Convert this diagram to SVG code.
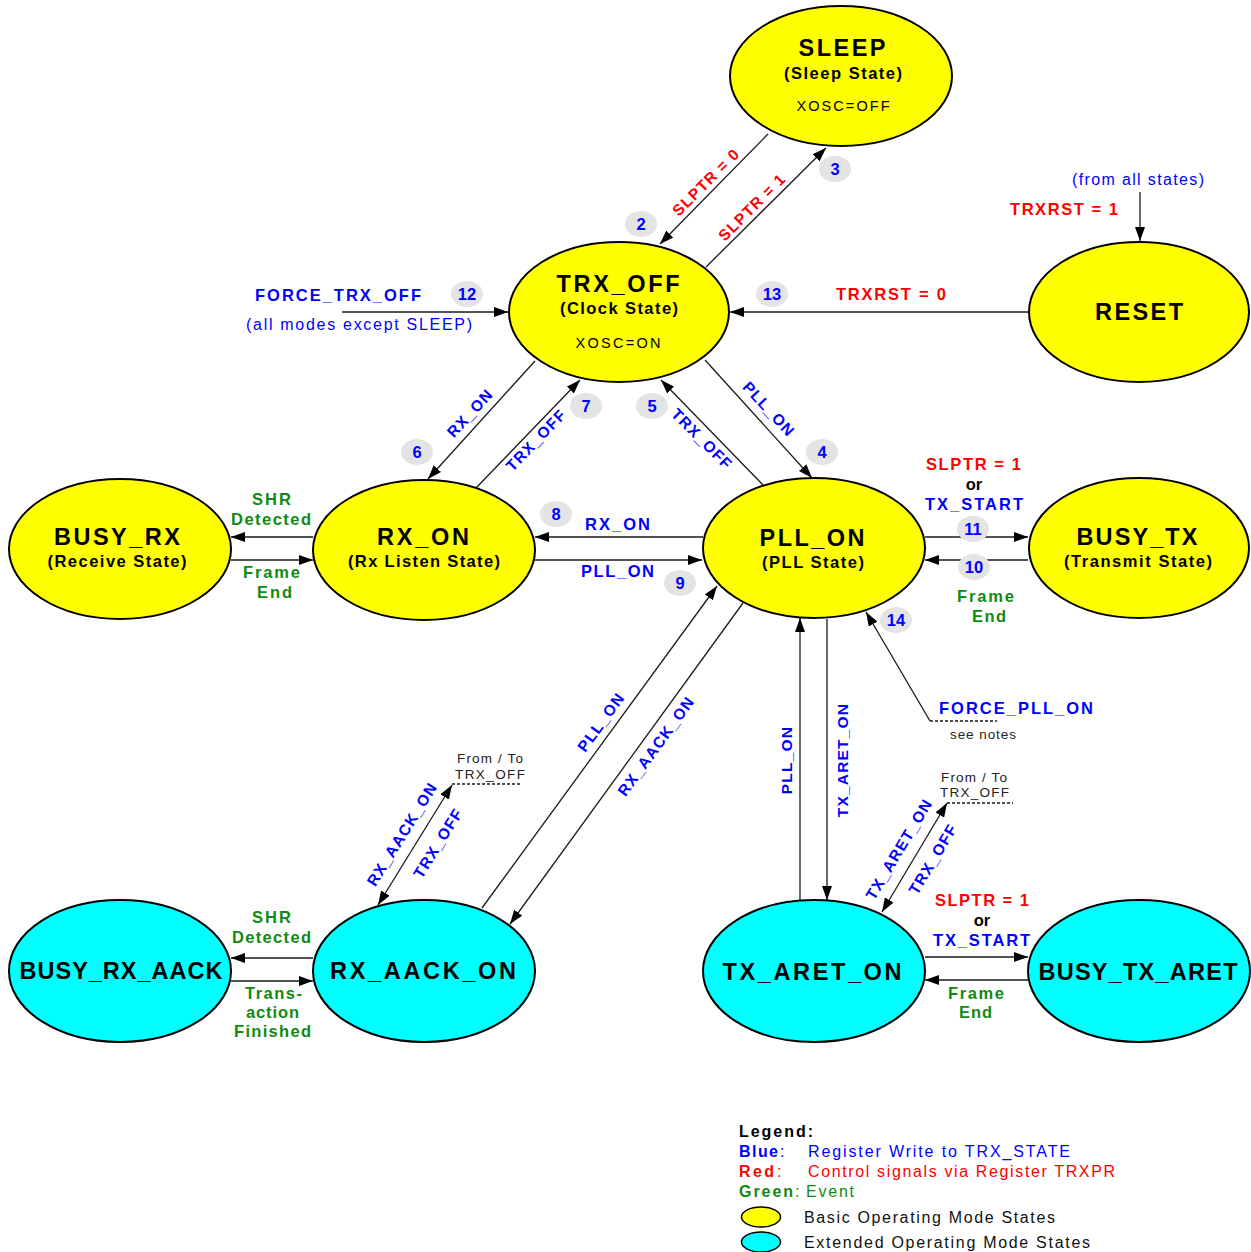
<svg xmlns="http://www.w3.org/2000/svg" width="1251" height="1252" viewBox="0 0 1251 1252">
<style>
text{font-family:"Liberation Sans",Arial,sans-serif}
.node ellipse{stroke:#000;stroke-width:2}
.basic{fill:#ffff00}
.ext{fill:#00ffff}
.t{font-size:23.5px;font-weight:bold;fill:#000;text-anchor:middle}
.s{font-size:16.5px;font-weight:bold;fill:#000;text-anchor:middle}
.x{font-size:14.5px;fill:#000;text-anchor:middle}
.lb{font-size:16.5px;font-weight:bold;fill:#0000ff}
.lr{font-size:16.5px;font-weight:bold;fill:#ff0000}
.lg{font-size:16.5px;font-weight:bold;fill:#108a10}
.lk{font-size:16.5px;font-weight:bold;fill:#000}
.nb{font-size:16px;fill:#0000ff}
.rot{font-size:15.5px;font-weight:bold;letter-spacing:1.2px;text-anchor:middle}
.note{font-size:13.5px;fill:#222}
.badge ellipse{fill:#e4e4e4}
.badge text{font-size:16.5px;font-weight:bold;fill:#0000ff;text-anchor:middle}
.conn line,.conn path{stroke:#1a1a1a;stroke-width:1.3;fill:none}
.conn .dash{stroke-dasharray:3,2}
.leg text{font-size:16px}
</style>
<defs>
<marker id="ah" markerUnits="userSpaceOnUse" viewBox="0 0 14 10" refX="14" refY="5" markerWidth="14" markerHeight="10" orient="auto-start-reverse">
<path d="M0,0 L14,5 L0,10 z" fill="#000"/>
</marker>
</defs>

<g id="connectors" class="conn">
<line x1="768" y1="134" x2="660" y2="244" marker-end="url(#ah)"/>
<line x1="706" y1="267" x2="826" y2="148" marker-end="url(#ah)"/>
<line x1="342" y1="312" x2="508" y2="312" marker-end="url(#ah)"/>
<line x1="1028" y1="312" x2="730" y2="312" marker-end="url(#ah)"/>
<line x1="1140" y1="192" x2="1140" y2="241" marker-end="url(#ah)"/>
<line x1="535" y1="361" x2="428" y2="479" marker-end="url(#ah)"/>
<line x1="476" y1="488" x2="580" y2="380" marker-end="url(#ah)"/>
<line x1="763" y1="485" x2="661" y2="380" marker-end="url(#ah)"/>
<line x1="705" y1="360" x2="812" y2="478" marker-end="url(#ah)"/>
<line x1="313" y1="537" x2="231" y2="537" marker-end="url(#ah)"/>
<line x1="231" y1="560" x2="313" y2="560" marker-end="url(#ah)"/>
<line x1="703" y1="537" x2="535" y2="537" marker-end="url(#ah)"/>
<line x1="535" y1="560" x2="702" y2="560" marker-end="url(#ah)"/>
<line x1="925" y1="537" x2="1028" y2="537" marker-end="url(#ah)"/>
<line x1="1028" y1="560" x2="925" y2="560" marker-end="url(#ah)"/>
<line x1="930" y1="721" x2="866" y2="612" marker-end="url(#ah)"/>
<line class="dash" x1="930" y1="721" x2="997" y2="721"/>
<line x1="827" y1="619" x2="827" y2="900" marker-end="url(#ah)"/>
<line x1="800" y1="900" x2="800" y2="618" marker-end="url(#ah)"/>
<line x1="882" y1="912" x2="947" y2="803" marker-start="url(#ah)" marker-end="url(#ah)"/>
<line class="dash" x1="947" y1="803" x2="1013" y2="803"/>
<line x1="925" y1="957" x2="1028" y2="957" marker-end="url(#ah)"/>
<line x1="1028" y1="980" x2="925" y2="980" marker-end="url(#ah)"/>
<line x1="482" y1="908" x2="717" y2="586" marker-end="url(#ah)"/>
<line x1="743" y1="603" x2="510" y2="924" marker-end="url(#ah)"/>
<line x1="378" y1="905" x2="452" y2="785" marker-start="url(#ah)" marker-end="url(#ah)"/>
<line class="dash" x1="452" y1="784" x2="520" y2="784"/>
<line x1="313" y1="958" x2="231" y2="958" marker-end="url(#ah)"/>
<line x1="231" y1="981" x2="313" y2="981" marker-end="url(#ah)"/>
</g>

<g id="node-sleep" class="node">
<ellipse class="basic" cx="841" cy="76" rx="111" ry="70"/>
<text class="t" x="842" y="56" textLength="87" lengthAdjust="spacing">SLEEP</text>
<text class="s" x="843" y="79" textLength="118" lengthAdjust="spacing">(Sleep State)</text>
<text class="x" x="843" y="111" textLength="93" lengthAdjust="spacing">XOSC=OFF</text>
</g>
<g id="node-trx-off" class="node">
<ellipse class="basic" cx="619" cy="312" rx="110" ry="70"/>
<text class="t" x="618" y="292" textLength="123" lengthAdjust="spacing">TRX_OFF</text>
<text class="s" x="619" y="314" textLength="118" lengthAdjust="spacing">(Clock State)</text>
<text class="x" x="618" y="348" textLength="85" lengthAdjust="spacing">XOSC=ON</text>
</g>
<g id="node-reset" class="node">
<ellipse class="basic" cx="1139" cy="312" rx="110" ry="70"/>
<text class="t" x="1139" y="320" textLength="88" lengthAdjust="spacing">RESET</text>
</g>
<g id="node-busy-rx" class="node">
<ellipse class="basic" cx="120" cy="549" rx="111" ry="70"/>
<text class="t" x="117" y="545" textLength="126" lengthAdjust="spacing">BUSY_RX</text>
<text class="s" x="117" y="567" textLength="139" lengthAdjust="spacing">(Receive State)</text>
</g>
<g id="node-rx-on" class="node">
<ellipse class="basic" cx="424" cy="550" rx="111" ry="70"/>
<text class="t" x="423" y="545" textLength="92" lengthAdjust="spacing">RX_ON</text>
<text class="s" x="424" y="567" textLength="152" lengthAdjust="spacing">(Rx Listen State)</text>
</g>
<g id="node-pll-on" class="node">
<ellipse class="basic" cx="814" cy="548" rx="111" ry="70"/>
<text class="t" x="812" y="546" textLength="105" lengthAdjust="spacing">PLL_ON</text>
<text class="s" x="813" y="568" textLength="102" lengthAdjust="spacing">(PLL State)</text>
</g>
<g id="node-busy-tx" class="node">
<ellipse class="basic" cx="1139" cy="548" rx="110" ry="70"/>
<text class="t" x="1137" y="545" textLength="121" lengthAdjust="spacing">BUSY_TX</text>
<text class="s" x="1138" y="567" textLength="148" lengthAdjust="spacing">(Transmit State)</text>
</g>
<g id="node-busy-rx-aack" class="node">
<ellipse class="ext" cx="120" cy="971" rx="111" ry="71"/>
<text class="t" x="121" y="979" textLength="203" lengthAdjust="spacing">BUSY_RX_AACK</text>
</g>
<g id="node-rx-aack-on" class="node">
<ellipse class="ext" cx="424" cy="971" rx="111" ry="71"/>
<text class="t" x="423" y="979" textLength="186" lengthAdjust="spacing">RX_AACK_ON</text>
</g>
<g id="node-tx-aret-on" class="node">
<ellipse class="ext" cx="814" cy="971" rx="111" ry="71"/>
<text class="t" x="812" y="980" textLength="179" lengthAdjust="spacing">TX_ARET_ON</text>
</g>
<g id="node-busy-tx-aret" class="node">
<ellipse class="ext" cx="1139" cy="971" rx="111" ry="71"/>
<text class="t" x="1138" y="980" textLength="199" lengthAdjust="spacing">BUSY_TX_ARET</text>
</g>

<g id="badges" class="badge">
<ellipse cx="641" cy="224" rx="16" ry="13"/><text x="641" y="230">2</text>
<ellipse cx="835" cy="169" rx="16" ry="13"/><text x="835" y="175">3</text>
<ellipse cx="467" cy="294" rx="16" ry="13"/><text x="467" y="300">12</text>
<ellipse cx="772" cy="294" rx="16" ry="13"/><text x="772" y="300">13</text>
<ellipse cx="417" cy="452" rx="16" ry="13"/><text x="417" y="458">6</text>
<ellipse cx="586" cy="406" rx="16" ry="13"/><text x="586" y="412">7</text>
<ellipse cx="652" cy="406" rx="16" ry="13"/><text x="652" y="412">5</text>
<ellipse cx="822" cy="452" rx="16" ry="13"/><text x="822" y="458">4</text>
<ellipse cx="556" cy="514" rx="16" ry="13"/><text x="556" y="520">8</text>
<ellipse cx="680" cy="583" rx="16" ry="13"/><text x="680" y="589">9</text>
<ellipse cx="973" cy="529" rx="16" ry="13"/><text x="973" y="535">11</text>
<ellipse cx="974" cy="567" rx="16" ry="13"/><text x="974" y="573">10</text>
<ellipse cx="896" cy="620" rx="16" ry="13"/><text x="896" y="626">14</text>
</g>

<g id="labels">
<text class="rot" fill="#ff0000" transform="translate(706,182) rotate(-45)" y="5.5">SLPTR = 0</text>
<text class="rot" fill="#ff0000" transform="translate(752,207) rotate(-45)" y="5.5">SLPTR = 1</text>
<text class="lb" x="255" y="301" textLength="166" lengthAdjust="spacing">FORCE_TRX_OFF</text>
<text class="nb" x="246" y="330" textLength="226" lengthAdjust="spacing">(all modes except SLEEP)</text>
<text class="lr" x="836" y="300" textLength="110" lengthAdjust="spacing">TRXRST = 0</text>
<text class="nb" x="1072" y="185" textLength="132" lengthAdjust="spacing">(from all states)</text>
<text class="lr" x="1010" y="215" textLength="108" lengthAdjust="spacing">TRXRST = 1</text>
<text class="rot" fill="#0000ff" transform="translate(470,413) rotate(-47)" y="5.5">RX_ON</text>
<text class="rot" fill="#0000ff" transform="translate(536,440) rotate(-46)" y="5.5">TRX_OFF</text>
<text class="rot" fill="#0000ff" transform="translate(702,439) rotate(45)" y="5.5">TRX_OFF</text>
<text class="rot" fill="#0000ff" transform="translate(769,409) rotate(47)" y="5.5">PLL_ON</text>
<text class="lg" x="252" y="505" textLength="39" lengthAdjust="spacing">SHR</text>
<text class="lg" x="231" y="525" textLength="80" lengthAdjust="spacing">Detected</text>
<text class="lg" x="243" y="578" textLength="57" lengthAdjust="spacing">Frame</text>
<text class="lg" x="257" y="598" textLength="35" lengthAdjust="spacing">End</text>
<text class="lb" x="585" y="530" textLength="65" lengthAdjust="spacing">RX_ON</text>
<text class="lb" x="581" y="577" textLength="73" lengthAdjust="spacing">PLL_ON</text>
<text class="lr" x="926" y="470" textLength="95" lengthAdjust="spacing">SLPTR = 1</text>
<text class="lk" x="974" y="490" text-anchor="middle">or</text>
<text class="lb" x="925" y="510" textLength="98" lengthAdjust="spacing">TX_START</text>
<text class="lg" x="957" y="602" textLength="57" lengthAdjust="spacing">Frame</text>
<text class="lg" x="972" y="622" textLength="34" lengthAdjust="spacing">End</text>
<text class="lb" x="939" y="714" textLength="154" lengthAdjust="spacing">FORCE_PLL_ON</text>
<text class="note" x="950" y="739" textLength="66" lengthAdjust="spacing">see notes</text>
<text class="rot" fill="#0000ff" transform="translate(786,760) rotate(-90)" y="5.5">PLL_ON</text>
<text class="rot" fill="#0000ff" transform="translate(842,760) rotate(-90)" y="5.5">TX_ARET_ON</text>
<text class="note" x="941" y="782" textLength="66" lengthAdjust="spacing">From / To</text>
<text class="note" x="940" y="797" textLength="69" lengthAdjust="spacing">TRX_OFF</text>
<text class="rot" fill="#0000ff" transform="translate(899,849) rotate(-59)" y="5.5">TX_ARET_ON</text>
<text class="rot" fill="#0000ff" transform="translate(933,859) rotate(-59)" y="5.5">TRX_OFF</text>
<text class="lr" x="935" y="906" textLength="94" lengthAdjust="spacing">SLPTR = 1</text>
<text class="lk" x="982" y="926" text-anchor="middle">or</text>
<text class="lb" x="933" y="946" textLength="97" lengthAdjust="spacing">TX_START</text>
<text class="lg" x="948" y="999" textLength="56" lengthAdjust="spacing">Frame</text>
<text class="lg" x="959" y="1018" textLength="33" lengthAdjust="spacing">End</text>
<text class="rot" fill="#0000ff" transform="translate(601,722) rotate(-54)" y="5.5">PLL_ON</text>
<text class="rot" fill="#0000ff" transform="translate(656,746) rotate(-54)" y="5.5">RX_AACK_ON</text>
<text class="note" x="457" y="763" textLength="66" lengthAdjust="spacing">From / To</text>
<text class="note" x="455" y="779" textLength="70" lengthAdjust="spacing">TRX_OFF</text>
<text class="rot" fill="#0000ff" transform="translate(402,834) rotate(-58)" y="5.5">RX_AACK_ON</text>
<text class="rot" fill="#0000ff" transform="translate(438,843) rotate(-58)" y="5.5">TRX_OFF</text>
<text class="lg" x="252" y="923" textLength="39" lengthAdjust="spacing">SHR</text>
<text class="lg" x="232" y="943" textLength="79" lengthAdjust="spacing">Detected</text>
<text class="lg" x="245" y="999" textLength="57" lengthAdjust="spacing">Trans-</text>
<text class="lg" x="246" y="1018" textLength="53" lengthAdjust="spacing">action</text>
<text class="lg" x="234" y="1037" textLength="77" lengthAdjust="spacing">Finished</text>
</g>

<g id="legend" class="leg">
<text class="lk" x="739" y="1137" textLength="74" lengthAdjust="spacing">Legend:</text>
<text class="lb" x="739" y="1157" textLength="39" lengthAdjust="spacing">Blue</text>
<text class="nb" x="780" y="1157">:</text>
<text class="nb" x="808" y="1157" textLength="262" lengthAdjust="spacing">Register Write to TRX_STATE</text>
<text class="lr" x="739" y="1177" textLength="35" lengthAdjust="spacing">Red</text>
<text x="777" y="1177" fill="#ff0000">:</text>
<text x="808" y="1177" fill="#ff0000" textLength="307" lengthAdjust="spacing">Control signals via Register TRXPR</text>
<text class="lg" x="739" y="1197" textLength="54" lengthAdjust="spacing">Green</text>
<text x="795" y="1197" fill="#108a10">:</text>
<text x="806" y="1197" fill="#108a10" textLength="48" lengthAdjust="spacing">Event</text>
<ellipse cx="761" cy="1217" rx="19.5" ry="10" fill="#ffff00" stroke="#000" stroke-width="1.5"/>
<text x="804" y="1223" fill="#111" textLength="251" lengthAdjust="spacing">Basic Operating Mode States</text>
<ellipse cx="761" cy="1242" rx="19.5" ry="10" fill="#00ffff" stroke="#000" stroke-width="1.5"/>
<text x="804" y="1248" fill="#111" textLength="286" lengthAdjust="spacing">Extended Operating Mode States</text>
</g>
</svg>
